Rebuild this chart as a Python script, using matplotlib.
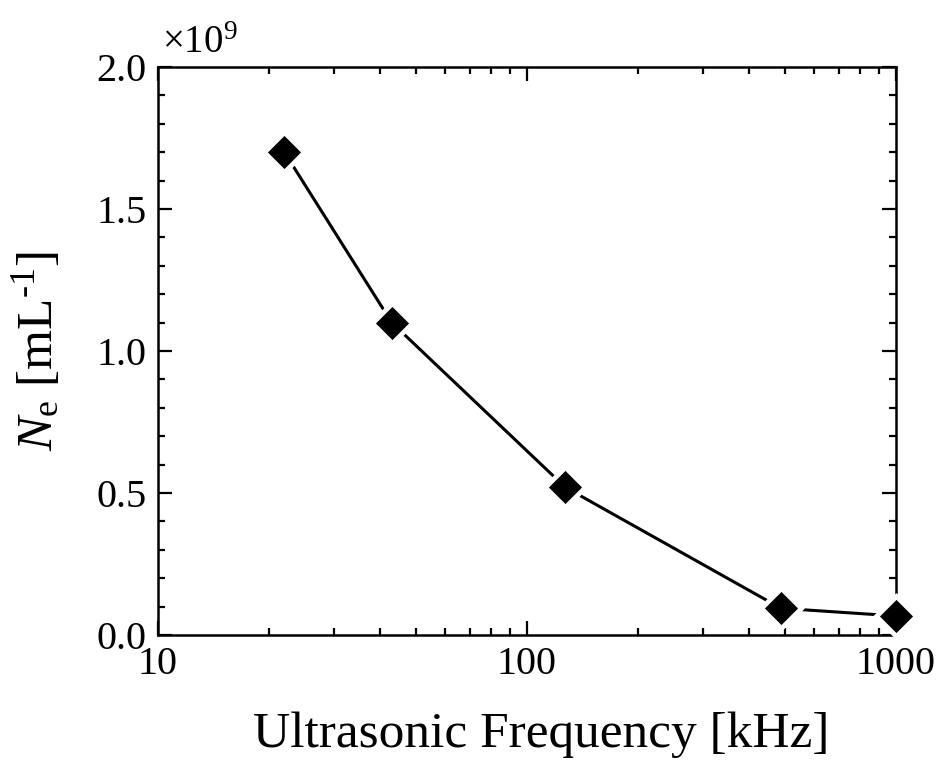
import matplotlib
matplotlib.use("Agg")
import matplotlib.pyplot as plt
from matplotlib.ticker import MultipleLocator, LogLocator, NullFormatter

freq_khz = [22, 43, 127, 488, 1000]
ne_values = [1.70e9, 1.10e9, 0.52e9, 0.094e9, 0.067e9]

plt.rcParams["font.family"] = "Liberation Serif"
plt.rcParams["mathtext.fontset"] = "custom"
plt.rcParams["mathtext.rm"] = "Liberation Serif"
plt.rcParams["mathtext.it"] = "Liberation Serif:italic"

fig = plt.figure(figsize=(9.37, 7.61), dpi=100)
ax = fig.add_axes([0.1686, 0.1656, 0.7876, 0.7464])

ax.plot(freq_khz, ne_values, color="black", linewidth=2.2, marker="D",
        markersize=20, markerfacecolor="black", markeredgecolor="white",
        markeredgewidth=3.5, clip_on=False, zorder=3)

ax.set_xscale("log")
ax.set_xlim(10, 1000)
ax.set_ylim(0, 2.0e9)
ax.yaxis.set_major_locator(MultipleLocator(0.5e9))
ax.yaxis.set_minor_locator(MultipleLocator(0.1e9))
ax.xaxis.set_minor_locator(LogLocator(base=10, subs=range(2, 10)))
ax.xaxis.set_minor_formatter(NullFormatter())
ax.set_xticks([10, 100, 1000])
ax.set_xticklabels(["10", "100", "1000"])
ax.set_yticks([0, 0.5e9, 1.0e9, 1.5e9, 2.0e9])
ax.set_yticklabels(["0.0", "0.5", "1.0", "1.5", "2.0"])

ax.tick_params(which="both", direction="in", top=True, right=True, width=1.6)
ax.tick_params(which="major", length=10, labelsize=29, pad=8)
ax.tick_params(which="minor", length=5)
for s in ax.spines.values():
    s.set_linewidth(1.8)

ax.text(0.005, 1.008, r"$\times$10$^{9}$", transform=ax.transAxes, fontsize=28,
        ha="left", va="bottom")

ax.set_xlabel("Ultrasonic Frequency [kHz]", fontsize=37)
ax.xaxis.set_label_coords(0.519, -0.135)
ax.set_ylabel("$N_\\mathregular{e}$ [mL$^\\mathregular{\u20101}$]", fontsize=37)
ax.yaxis.set_label_coords(-0.128, 0.5)

plt.savefig("out.png", dpi=100)
